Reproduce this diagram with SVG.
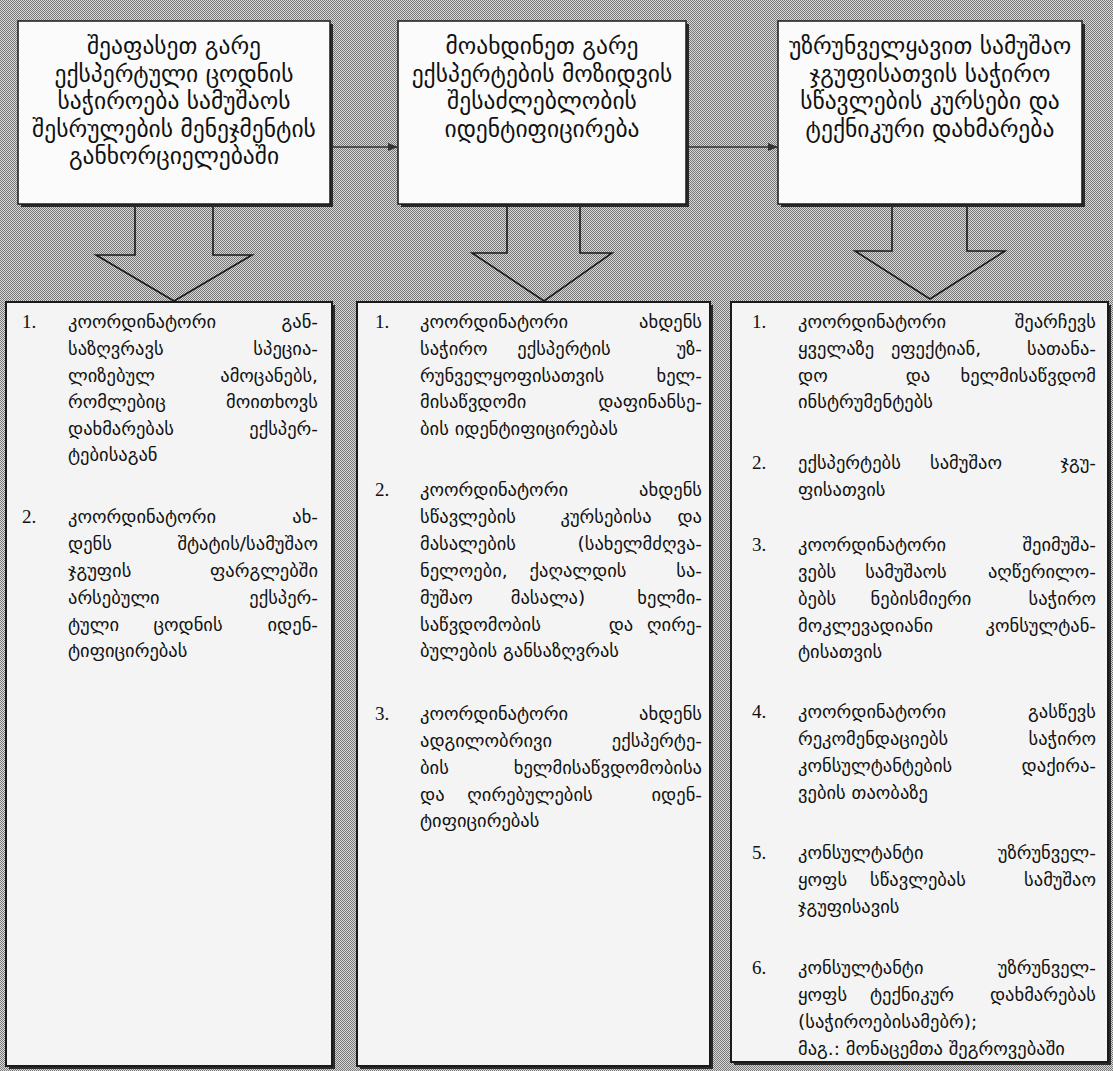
<svg xmlns="http://www.w3.org/2000/svg" width="1113" height="1071" viewBox="0 0 1113 1071">
<style>
.t{font-family:'DejaVu Sans',sans-serif;font-size:23.5px;fill:#111;text-anchor:middle}
.b{font-family:'DejaVu Sans',sans-serif;font-size:18.5px;fill:#111}
.n{font-family:'Liberation Serif',serif;font-size:19px;fill:#111}
.e{text-anchor:end}
.m{text-anchor:middle}
.box{fill:#fbfbfb;stroke:#1a1a1a;stroke-width:1.5}
.lbox{fill:#f4f4f4;stroke:#1a1a1a;stroke-width:2}
.sh{fill:#2a2a2a}
.arr{fill:none;stroke:#1a1a1a;stroke-width:1.6}
.ln{stroke:#333;stroke-width:1.6;fill:none}
</style>
<defs>
<pattern id="ht" width="2" height="2" patternUnits="userSpaceOnUse">
<rect width="2" height="2" fill="#d8d8d8"/>
<rect width="1" height="1" fill="#787878"/>
<rect x="1" y="1" width="1" height="1" fill="#787878"/>
</pattern>
<marker id="ah" markerWidth="10" markerHeight="8" refX="9" refY="4" orient="auto" markerUnits="userSpaceOnUse">
<path d="M0,0 L10,4 L0,8 Z" fill="#333"/>
</marker>
</defs>
<rect width="1113" height="1071" fill="url(#ht)"/>

<g id="connectors">
<line class="ln" x1="331" y1="147" x2="397" y2="147" marker-end="url(#ah)"/>
<line class="ln" x1="687" y1="147" x2="777" y2="147" marker-end="url(#ah)"/>
<polygon class="arr" points="135,204 135,255 96,255 174,301 252,255 213,255 213,204"/>
<polygon class="arr" points="507,204 507,253 472,253 544,301 612,253 580,253 580,204"/>
<polygon class="arr" points="892,204 892,251 855,251 930,299 1005,251 967,251 967,204"/>
</g>

<g id="top1">
<rect class="sh" x="21" y="24" width="312" height="183"/>
<rect class="box" x="18" y="21" width="312" height="183"/>
<text class="t" x="174" y="54">შეაფასეთ გარე</text>
<text class="t" x="174" y="82">ექსპერტული ცოდნის</text>
<text class="t" x="174" y="109">საჭიროება სამუშაოს</text>
<text class="t" x="174" y="137">შესრულების მენეჯმენტის</text>
<text class="t" x="174" y="164">განხორციელებაში</text>
</g>

<g id="top2">
<rect class="sh" x="401" y="24" width="288" height="183"/>
<rect class="box" x="398" y="21" width="288" height="183"/>
<text class="t" x="542" y="54">მოახდინეთ გარე</text>
<text class="t" x="542" y="82">ექსპერტების მოზიდვის</text>
<text class="t" x="542" y="109">შესაძლებლობის</text>
<text class="t" x="542" y="137">იდენტიფიცირება</text>
</g>

<g id="top3">
<rect class="sh" x="781" y="24" width="304" height="183"/>
<rect class="box" x="778" y="21" width="304" height="183"/>
<text class="t" x="930" y="54">უზრუნველყავით სამუშაო</text>
<text class="t" x="930" y="82">ჯგუფისათვის საჭირო</text>
<text class="t" x="930" y="109">სწავლების კურსები და</text>
<text class="t" x="930" y="137">ტექნიკური დახმარება</text>
</g>

<g id="boxA">
<rect class="sh" x="9" y="305" width="326" height="764"/>
<rect class="lbox" x="6" y="302" width="326" height="764"/>
<text class="n" x="22" y="328">1.</text>
<text class="b" y="328"><tspan x="68">კოორდინატორი</tspan><tspan class="e" x="318">გან-</tspan></text>
<text class="b" y="355"><tspan x="68">საზღვრავს</tspan><tspan class="e" x="318">სპეცია-</tspan></text>
<text class="b" y="382"><tspan x="68">ლიზებულ</tspan><tspan class="e" x="318">ამოცანებს,</tspan></text>
<text class="b" y="408"><tspan x="68">რომლებიც</tspan><tspan class="e" x="318">მოითხოვს</tspan></text>
<text class="b" y="435"><tspan x="68">დახმარებას</tspan><tspan class="e" x="318">ექსპერ-</tspan></text>
<text class="b" x="68" y="461">ტებისაგან</text>
<text class="n" x="22" y="523">2.</text>
<text class="b" y="523"><tspan x="68">კოორდინატორი</tspan><tspan class="e" x="318">ახ-</tspan></text>
<text class="b" y="550"><tspan x="68">დენს</tspan><tspan class="e" x="318">შტატის/სამუშაო</tspan></text>
<text class="b" y="577"><tspan x="68">ჯგუფის</tspan><tspan class="e" x="318">ფარგლებში</tspan></text>
<text class="b" y="604"><tspan x="68">არსებული</tspan><tspan class="e" x="318">ექსპერ-</tspan></text>
<text class="b" y="631"><tspan x="68">ტული</tspan><tspan class="m" x="188">ცოდნის</tspan><tspan class="e" x="318">იდენ-</tspan></text>
<text class="b" x="68" y="657">ტიფიცირებას</text>
</g>

<g id="boxB">
<rect class="sh" x="360" y="305" width="353" height="764"/>
<rect class="lbox" x="357" y="302" width="353" height="764"/>
<text class="n" x="375" y="328">1.</text>
<text class="b" y="328"><tspan x="420">კოორდინატორი</tspan><tspan class="e" x="702">ახდენს</tspan></text>
<text class="b" y="355"><tspan x="420">საჭირო</tspan><tspan class="m" x="564">ექსპერტის</tspan><tspan class="e" x="702">უზ-</tspan></text>
<text class="b" y="382"><tspan x="420">რუნველყოფისათვის</tspan><tspan class="e" x="702">ხელ-</tspan></text>
<text class="b" y="408"><tspan x="420">მისაწვდომი</tspan><tspan class="e" x="702">დაფინანსე-</tspan></text>
<text class="b" x="420" y="435">ბის იდენტიფიცირებას</text>
<text class="n" x="375" y="496">2.</text>
<text class="b" y="496"><tspan x="420">კოორდინატორი</tspan><tspan class="e" x="702">ახდენს</tspan></text>
<text class="b" y="523"><tspan x="420">სწავლების</tspan><tspan class="m" x="606">კურსებისა</tspan><tspan class="e" x="702">და</tspan></text>
<text class="b" y="550"><tspan x="420">მასალების</tspan><tspan class="e" x="702">(სახელმძღვა-</tspan></text>
<text class="b" y="577"><tspan x="420">ნელოები,</tspan><tspan class="m" x="578">ქაღალდის</tspan><tspan class="e" x="702">სა-</tspan></text>
<text class="b" y="604"><tspan x="420">მუშაო</tspan><tspan class="m" x="548">მასალა)</tspan><tspan class="e" x="702">ხელმი-</tspan></text>
<text class="b" y="631"><tspan x="420">საწვდომობის</tspan><tspan class="m" x="621">და</tspan><tspan class="e" x="702">ღირე-</tspan></text>
<text class="b" x="420" y="657">ბულების განსაზღვრას</text>
<text class="n" x="375" y="720">3.</text>
<text class="b" y="720"><tspan x="420">კოორდინატორი</tspan><tspan class="e" x="702">ახდენს</tspan></text>
<text class="b" y="747"><tspan x="420">ადგილობრივი</tspan><tspan class="e" x="702">ექსპერტე-</tspan></text>
<text class="b" y="774"><tspan x="420">ბის</tspan><tspan class="e" x="702">ხელმისაწვდომობისა</tspan></text>
<text class="b" y="801"><tspan x="420">და</tspan><tspan class="m" x="530">ღირებულების</tspan><tspan class="e" x="702">იდენ-</tspan></text>
<text class="b" x="420" y="827">ტიფიცირებას</text>
</g>

<g id="boxC">
<rect class="sh" x="734" y="305" width="377" height="760"/>
<rect class="lbox" x="731" y="302" width="377" height="760"/>
<text class="n" x="752" y="328">1.</text>
<text class="b" y="328"><tspan x="798">კოორდინატორი</tspan><tspan class="e" x="1096">შეარჩევს</tspan></text>
<text class="b" y="355"><tspan x="798">ყველაზე</tspan><tspan class="m" x="936">ეფექტიან,</tspan><tspan class="e" x="1096">სათანა-</tspan></text>
<text class="b" y="382"><tspan x="798">დო</tspan><tspan class="m" x="918">და</tspan><tspan class="e" x="1096">ხელმისაწვდომ</tspan></text>
<text class="b" x="798" y="408">ინსტრუმენტებს</text>
<text class="n" x="752" y="469">2.</text>
<text class="b" y="469"><tspan x="798">ექსპერტებს</tspan><tspan class="m" x="966">სამუშაო</tspan><tspan class="e" x="1096">ჯგუ-</tspan></text>
<text class="b" x="798" y="496">ფისათვის</text>
<text class="n" x="752" y="551">3.</text>
<text class="b" y="551"><tspan x="798">კოორდინატორი</tspan><tspan class="e" x="1096">შეიმუშა-</tspan></text>
<text class="b" y="578"><tspan x="798">ვებს</tspan><tspan class="m" x="906">სამუშაოს</tspan><tspan class="e" x="1096">აღწერილო-</tspan></text>
<text class="b" y="605"><tspan x="798">ბებს</tspan><tspan class="m" x="921">ნებისმიერი</tspan><tspan class="e" x="1096">საჭირო</tspan></text>
<text class="b" y="632"><tspan x="798">მოკლევადიანი</tspan><tspan class="e" x="1096">კონსულტან-</tspan></text>
<text class="b" x="798" y="658">ტისათვის</text>
<text class="n" x="752" y="718">4.</text>
<text class="b" y="718"><tspan x="798">კოორდინატორი</tspan><tspan class="e" x="1096">გასწევს</tspan></text>
<text class="b" y="745"><tspan x="798">რეკომენდაციებს</tspan><tspan class="e" x="1096">საჭირო</tspan></text>
<text class="b" y="772"><tspan x="798">კონსულტანტების</tspan><tspan class="e" x="1096">დაქირა-</tspan></text>
<text class="b" x="798" y="799">ვების თაობაზე</text>
<text class="n" x="752" y="859">5.</text>
<text class="b" y="859"><tspan x="798">კონსულტანტი</tspan><tspan class="e" x="1096">უზრუნველ-</tspan></text>
<text class="b" y="886"><tspan x="798">ყოფს</tspan><tspan class="m" x="918">სწავლებას</tspan><tspan class="e" x="1096">სამუშაო</tspan></text>
<text class="b" x="798" y="913">ჯგუფისავის</text>
<text class="n" x="752" y="974">6.</text>
<text class="b" y="974"><tspan x="798">კონსულტანტი</tspan><tspan class="e" x="1096">უზრუნველ-</tspan></text>
<text class="b" y="1001"><tspan x="798">ყოფს</tspan><tspan class="m" x="912">ტექნიკურ</tspan><tspan class="e" x="1096">დახმარებას</tspan></text>
<text class="b" x="798" y="1028">(საჭიროებისამებრ);</text>
<text class="b" x="798" y="1055">მაგ.: მონაცემთა შეგროვებაში</text>
</g>
</svg>
